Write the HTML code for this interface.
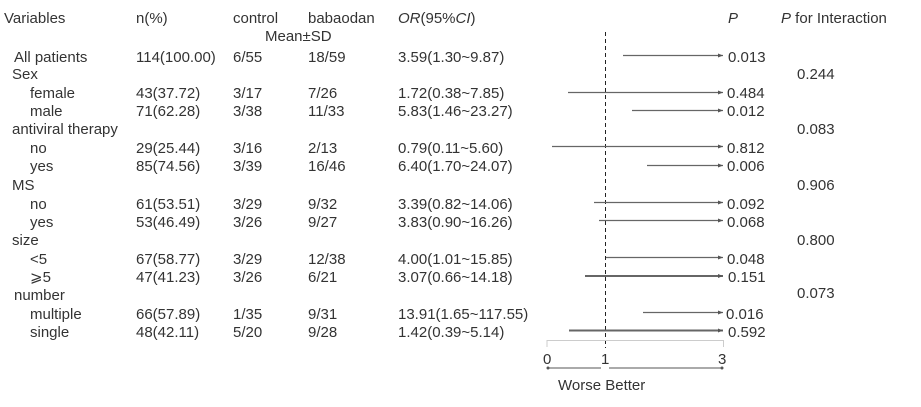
<!DOCTYPE html>
<html><head><meta charset="utf-8"><style>
html,body{margin:0;padding:0;background:#fff;}
svg text{font-family:"Liberation Sans","Noto Sans CJK SC",sans-serif;font-size:15px;fill:#333;}
</style></head><body>
<svg width="921" height="402" xmlns="http://www.w3.org/2000/svg">
<defs><marker id="a" markerUnits="userSpaceOnUse" markerWidth="6" markerHeight="6" refX="5" refY="3" orient="auto"><path d="M0,1 L5,3 L0,5 z" fill="#555"/></marker></defs>
<g>
<text x="4" y="23">Variables</text><text x="136" y="23">n(%)</text><text x="233" y="23">control</text><text x="308" y="23">babaodan</text>
<text x="265" y="41">Mean±SD</text>
<text x="398" y="23"><tspan font-style="italic">OR</tspan>(95%<tspan font-style="italic">CI</tspan>)</text>
<text x="728" y="23" font-style="italic">P</text><text x="781" y="23"><tspan font-style="italic">P</tspan> for Interaction</text>
</g>
<g>
<text x="14" y="62">All patients</text><text x="136" y="62">114(100.00)</text><text x="233" y="62">6/55</text><text x="308" y="62">18/59</text><text x="398" y="62">3.59(1.30~9.87)</text><text x="728" y="62">0.013</text>
<text x="12" y="79">Sex</text><text x="797" y="79">0.244</text>
<text x="30" y="98">female</text><text x="136" y="98">43(37.72)</text><text x="233" y="98">3/17</text><text x="308" y="98">7/26</text><text x="398" y="98">1.72(0.38~7.85)</text><text x="727" y="98">0.484</text>
<text x="30" y="116">male</text><text x="136" y="116">71(62.28)</text><text x="233" y="116">3/38</text><text x="308" y="116">11/33</text><text x="398" y="116">5.83(1.46~23.27)</text><text x="727" y="116">0.012</text>
<text x="12" y="134">antiviral therapy</text><text x="797" y="134">0.083</text>
<text x="30" y="153">no</text><text x="136" y="153">29(25.44)</text><text x="233" y="153">3/16</text><text x="308" y="153">2/13</text><text x="398" y="153">0.79(0.11~5.60)</text><text x="727" y="153">0.812</text>
<text x="30" y="171">yes</text><text x="136" y="171">85(74.56)</text><text x="233" y="171">3/39</text><text x="308" y="171">16/46</text><text x="398" y="171">6.40(1.70~24.07)</text><text x="727" y="171">0.006</text>
<text x="12" y="190">MS</text><text x="797" y="190">0.906</text>
<text x="30" y="209">no</text><text x="136" y="209">61(53.51)</text><text x="233" y="209">3/29</text><text x="308" y="209">9/32</text><text x="398" y="209">3.39(0.82~14.06)</text><text x="727" y="209">0.092</text>
<text x="30" y="227">yes</text><text x="136" y="227">53(46.49)</text><text x="233" y="227">3/26</text><text x="308" y="227">9/27</text><text x="398" y="227">3.83(0.90~16.26)</text><text x="727" y="227">0.068</text>
<text x="12" y="245">size</text><text x="797" y="245">0.800</text>
<text x="30" y="264">&lt;5</text><text x="136" y="264">67(58.77)</text><text x="233" y="264">3/29</text><text x="308" y="264">12/38</text><text x="398" y="264">4.00(1.01~15.85)</text><text x="727" y="264">0.048</text>
<text x="30" y="282">⩾5</text><text x="136" y="282">47(41.23)</text><text x="233" y="282">3/26</text><text x="308" y="282">6/21</text><text x="398" y="282">3.07(0.66~14.18)</text><text x="728" y="282">0.151</text>
<text x="14" y="300">number</text><text x="797" y="298">0.073</text>
<text x="30" y="319">multiple</text><text x="136" y="319">66(57.89)</text><text x="233" y="319">1/35</text><text x="308" y="319">9/31</text><text x="398" y="319">13.91(1.65~117.55)</text><text x="726" y="319">0.016</text>
<text x="30" y="337">single</text><text x="136" y="337">48(42.11)</text><text x="233" y="337">5/20</text><text x="308" y="337">9/28</text><text x="398" y="337">1.42(0.39~5.14)</text><text x="728" y="337">0.592</text>
</g>
<line x1="605.5" y1="32" x2="605.5" y2="348" stroke="#222" stroke-dasharray="4,3"/>
<g stroke="#666" stroke-width="1.2" marker-end="url(#a)">
<line x1="623" y1="55.5" x2="723" y2="55.5"/>
<line x1="568" y1="92.5" x2="723" y2="92.5"/>
<line x1="632" y1="110.5" x2="723" y2="110.5"/>
<line x1="552" y1="146.5" x2="723" y2="146.5"/>
<line x1="647" y1="165.5" x2="723" y2="165.5"/>
<line x1="594" y1="202.5" x2="723" y2="202.5"/>
<line x1="599" y1="220.5" x2="723" y2="220.5"/>
<line x1="606" y1="257.5" x2="723" y2="257.5"/>
<line x1="585" y1="276" x2="723" y2="276" stroke-width="2"/>
<line x1="643" y1="312.5" x2="723" y2="312.5"/>
<line x1="569" y1="330.5" x2="723" y2="330.5" stroke-width="2"/>
</g>
<path d="M547,347 V340.5 H723.5 V347" fill="none" stroke="#ccc"/>
<text x="543" y="364">0</text><text x="601" y="364">1</text><text x="718" y="364">3</text>
<line x1="548" y1="368" x2="601" y2="368" stroke="#555"/><line x1="609" y1="368" x2="722" y2="368" stroke="#555"/>
<circle cx="548" cy="368" r="1.5" fill="#555"/><circle cx="722" cy="368" r="1.5" fill="#555"/>
<text x="558" y="390">Worse Better</text>
</svg>
</body></html>
